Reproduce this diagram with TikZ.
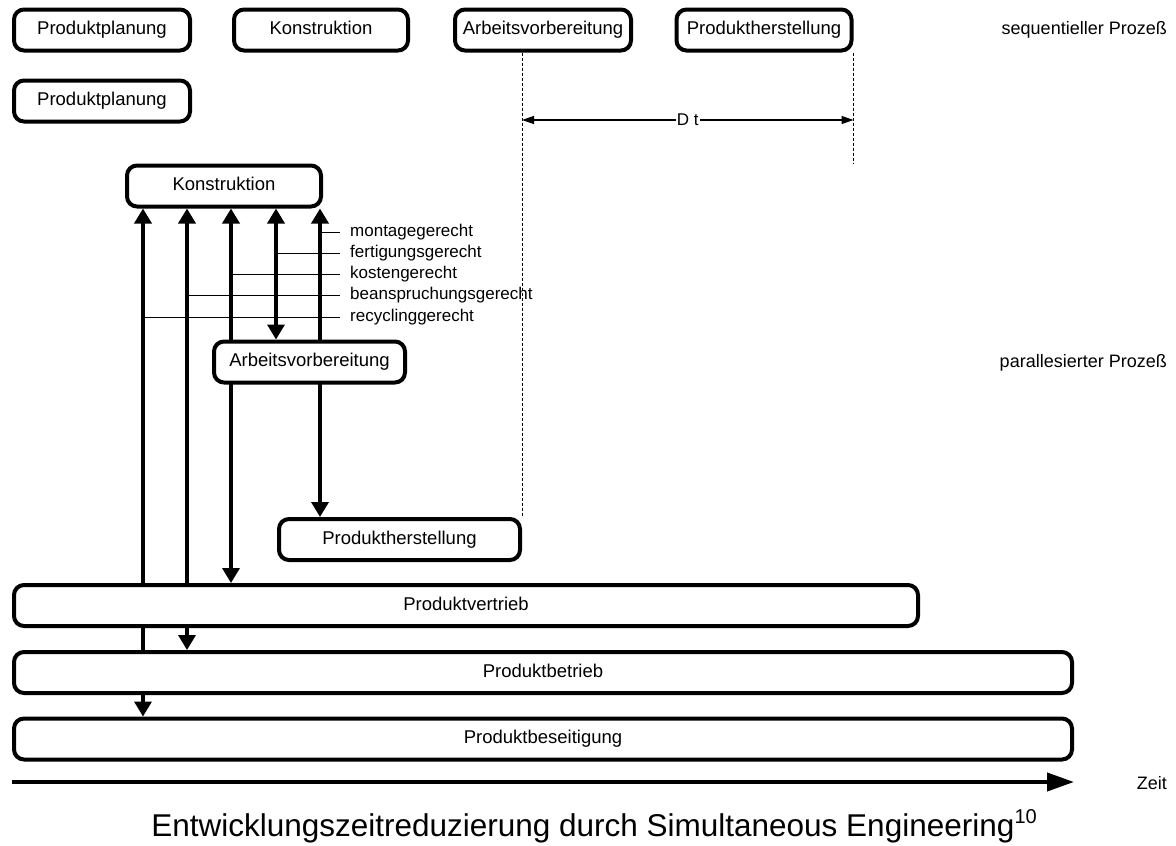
\documentclass[tikz,border=0pt]{standalone}
\usepackage{fontspec}
\setmainfont{Liberation Sans}
\usetikzlibrary{arrows.meta,calc}
\pgfdeclarelayer{background}
\pgfsetlayers{background,main}
\begin{document}
\begin{tikzpicture}[x=1pt,y=-1pt,
  phase/.style={draw, line width=4pt, rounded corners=10pt, fill=white,
    inner sep=0pt, minimum height=41pt, text height=13.5pt, text depth=4pt,
    font=\fontsize{18.5}{22}\selectfont},
  flow/.style={line width=3.5pt,
    {Triangle[length=15pt,width=17pt]}-{Triangle[length=15pt,width=17pt]}},
  lab/.style={inner sep=0pt, anchor=west, font=\fontsize{17}{20}\selectfont},
  side/.style={inner sep=0pt, anchor=east, font=\fontsize{18}{21}\selectfont},
  tick/.style={line width=1pt},
  guide/.style={line width=0.8pt, dash pattern=on 3pt off 2pt},
  span/.style={line width=1.2pt,
    {Triangle[length=12pt,width=8pt]}-{Triangle[length=12pt,width=8pt]}},
  timeaxis/.style={line width=4pt, -{Triangle[length=27pt,width=18pt]}}
]
\useasboundingbox (0,0) rectangle (1176,846);

% sequential process
\node[phase, minimum width=176pt] (tPP) at (102,30) {Produktplanung};
\node[phase, minimum width=174pt] (tK)  at (321,30) {Konstruktion};
\node[phase, minimum width=176pt] (tAV) at (543,30) {Arbeitsvorbereitung};
\node[phase, minimum width=175pt] (tPH) at (764,30) {Produktherstellung};
\node[side] (seq) at (1167,30) {sequentieller Prozeß};

% parallelised process
\node[phase, minimum width=176pt] (pPP) at (102,101) {Produktplanung};
\node[phase, minimum width=194pt] (pK)  at (224,186) {Konstruktion};
\node[phase, minimum width=191pt] (pAV) at (309.5,362) {Arbeitsvorbereitung};
\node[phase, minimum width=241pt] (pPH) at (399.5,539.5) {Produktherstellung};
\node[phase, minimum width=904pt] (pPV) at (466,605.5) {Produktvertrieb};
\node[phase, minimum width=1058pt] (pPB) at (543,672.5) {Produktbetrieb};
\node[phase, minimum width=1058pt] (pPS) at (543,739) {Produktbeseitigung};
\node[side] (par) at (1167,363) {parallesierter Prozeß};

% feedback arrows below Konstruktion
\coordinate (k1) at ([xshift=18pt]pK.south west);
\coordinate (k2) at ([xshift=62pt]pK.south west);
\coordinate (k3) at ([xshift=106pt]pK.south west);
\coordinate (k4) at ([xshift=151pt]pK.south west);
\coordinate (k5) at ([xshift=195pt]pK.south west);
\begin{pgfonlayer}{background}
  \draw[flow] (k1) -- (k1 |- pPS.north);
  \draw[flow] (k2) -- (k2 |- pPB.north);
  \draw[flow] (k3) -- (k3 |- pPV.north);
  \draw[flow] (k4) -- (k4 |- pAV.north);
  \draw[flow] (k5) -- (k5 |- pPH.north);
  % time difference guides
  \draw[guide] (tAV.south -| pPH.north east) -- (pPH.north east);
  \coordinate (g2) at (tPH.south east |- pK.north);
  \draw[guide] (tPH.south east) -- (g2);
\end{pgfonlayer}

% design criteria
\node[lab] (l1) at (350,232) {montagegerecht};
\node[lab] (l2) at (350,253) {fertigungsgerecht};
\node[lab] (l3) at (350,274) {kostengerecht};
\node[lab] (l4) at (350,295.5) {beanspruchungsgerecht};
\node[lab] (l5) at (350,317) {recyclinggerecht};
\draw[tick] (k5 |- l1.west) -- ([xshift=-10pt]l1.west);
\draw[tick] (k4 |- l2.west) -- ([xshift=-10pt]l2.west);
\draw[tick] (k3 |- l3.west) -- ([xshift=-10pt]l3.west);
\draw[tick] (k2 |- l4.west) -- ([xshift=-10pt]l4.west);
\draw[tick] (k1 |- l5.west) -- ([xshift=-10pt]l5.west);

% time saving
\coordinate (dL) at (pPH.north east |- 0,120);
\coordinate (dR) at (tPH.south east |- 0,120);
\draw[span] (dL) -- node[fill=white, inner sep=1pt, font=\fontsize{17}{20}\selectfont] (dt) {D t} (dR);

% time axis
\coordinate (z0) at (pPS.west |- 0,782);
\coordinate (z1) at (pPS.east |- 0,782);
\draw[timeaxis] (z0) -- (z1);
\node[side] (zeit) at (1167,783) {Zeit};

% caption
\node[inner sep=0pt, anchor=base, font=\fontsize{31.5}{36}\selectfont] (cap) at (594,836)
  {Entwicklungszeitreduzierung durch Simultaneous Engineering\raisebox{13pt}{\fontsize{20}{20}\selectfont 10}};
\end{tikzpicture}
\end{document}
